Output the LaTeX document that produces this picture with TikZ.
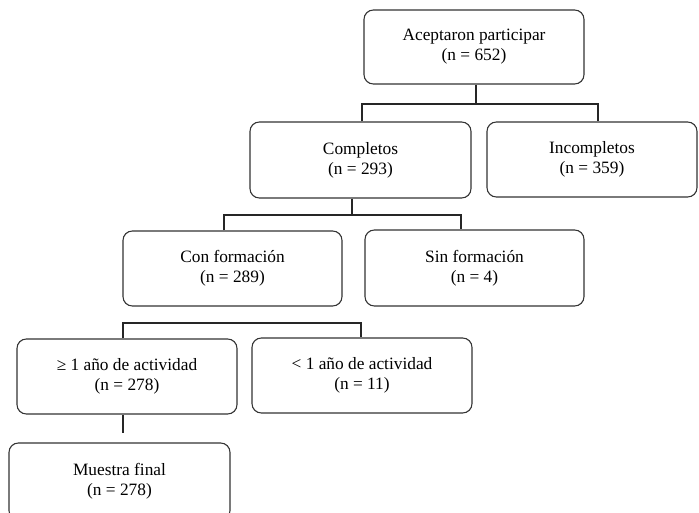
\documentclass[tikz,border=0pt]{standalone}
\usepackage{fontspec}
\setmainfont{Liberation Serif}
\begin{document}
\begin{tikzpicture}[x=0.75pt,y=-0.75pt,
  box/.style={draw=black!80, line width=0.8pt, rounded corners=7pt, inner sep=0pt,
    align=center, font=\fontsize{13}{15}\selectfont},
  link/.style={draw=black!85, line width=0.8pt}]
\clip (0,0) rectangle (699,513);
\fill[white] (0,0) rectangle (699,513);
\node[box, minimum width=165pt, minimum height=55.5pt] (A) at (474,47) {Aceptaron participar\\(n = 652)};
\node[box, minimum width=157.5pt, minimum height=56.25pt] (I) at (592,159.5) {Incompletos\\(n = 359)};
\node[box, minimum width=165.75pt, minimum height=57pt] (C) at (360.5,160) {Completos\\(n = 293)};
\node[box, minimum width=164.25pt, minimum height=56.25pt] (CF) at (232.5,268.5) {Con formación\\(n = 289)};
\node[box, minimum width=164.25pt, minimum height=57pt] (SF) at (474.5,268) {Sin formación\\(n = 4)};
\node[box, minimum width=165pt, minimum height=56.25pt] (G) at (127,376.5) {≥ 1 año de actividad\\(n = 278)};
\node[box, minimum width=165pt, minimum height=56.25pt] (L) at (362,375.5) {< 1 año de actividad\\(n = 11)};
\node[box, minimum width=165.75pt, minimum height=57.75pt] (M) at (119.5,481.5) {Muestra final\\(n = 278)};
% level 1
\coordinate (jA) at (476,104);
\coordinate (jAL) at (362,104);
\coordinate (jAR) at (598,104);
\draw[link] (A.south -| jA) -- (jA);
\draw[link] (jAL |- C.north) -- (jAL) -- (jAR) -- (jAR |- I.north);
% level 2
\coordinate (jC) at (352,215);
\coordinate (jCL) at (224,215);
\coordinate (jCR) at (461,215);
\draw[link] (C.south -| jC) -- (jC);
\draw[link] (jCL |- CF.north) -- (jCL) -- (jCR) -- (jCR |- SF.north);
% level 3
\coordinate (jGL) at (123,323);
\coordinate (jGR) at (361,323);
\draw[link] (jGL |- G.north) -- (jGL) -- (jGR) -- (jGR |- L.north);
% level 4
\coordinate (jM) at (123,433);
\draw[link] (G.south -| jM) -- (jM);
\end{tikzpicture}
\end{document}
